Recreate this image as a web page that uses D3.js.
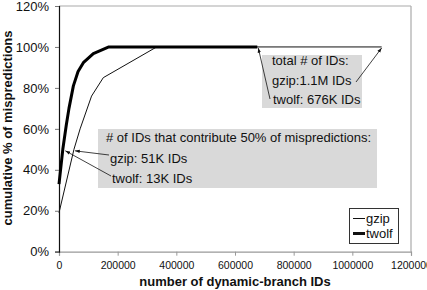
<!DOCTYPE html>
<html>
<head>
<meta charset="utf-8">
<script src="https://cdn.jsdelivr.net/npm/d3@7"></script>
<style>
  body { margin: 0; background: #fff; }
  text { font-family: "Liberation Sans", Arial, sans-serif; fill: #111; }
</style>
</head>
<body>
<div id="chart"></div>
<script>
// cumulative mispredictions vs number of dynamic-branch IDs

const gzip = [[0, 19], [51000, 50], [72000, 60], [111000, 76], [151000, 85], [333000, 100], [1100000, 100]];
const twolf = [[0, 33], [13000, 50], [25000, 62], [34000, 70], [49000, 81], [65000, 88], [83000, 92.3], [117000, 96.7], [170000, 100], [676000, 100]];
const xTicks = [0, 200000, 400000, 600000, 800000, 1000000, 1200000];
const yTicks = [0, 20, 40, 60, 80, 100, 120];
const seriesNames = ["gzip", "twolf"];

const W = 427, H = 290;

const svg = d3.select("#chart").append("svg")
  .attr("width", W)
  .attr("height", H);

const x = d3.scaleLinear().domain([0, 1200000]).range([59, 411]);
const y = d3.scaleLinear().domain([0, 120]).range([251.7, 6]);

const defs = svg.append("defs");
defs.append("marker")
  .attr("id", "arr")
  .attr("viewBox", "0 0 10 10")
  .attr("refX", 10).attr("refY", 5)
  .attr("markerWidth", 6).attr("markerHeight", 6)
  .attr("orient", "auto")
  .append("path").attr("d", "M0,1.5L10,5L0,8.5Z").attr("fill", "#111");

// plot frame (top + right)
svg.append("line")
  .attr("x1", x(0)).attr("x2", x(1200000))
  .attr("y1", y(120)).attr("y2", y(120))
  .attr("stroke", "#aaa").attr("stroke-width", 1.2);
svg.append("line")
  .attr("x1", x(1200000)).attr("x2", x(1200000))
  .attr("y1", y(120)).attr("y2", y(0))
  .attr("stroke", "#aaa").attr("stroke-width", 1.2);

// x axis
const xAxis = svg.append("g")
  .attr("transform", `translate(0,${y(0)})`)
  .call(d3.axisBottom(x).tickValues(xTicks).tickFormat(d3.format("d")).tickSize(4).tickPadding(6));
xAxis.select(".domain").attr("stroke", "#999").attr("stroke-width", 1.2);
xAxis.selectAll(".tick line").attr("stroke", "#999");
xAxis.selectAll("text").style("font-size", "10.5px");

// y axis
const yAxis = svg.append("g")
  .attr("transform", `translate(${x(0)},0)`)
  .call(d3.axisLeft(y).tickValues(yTicks).tickFormat(d => d + "%").tickSize(4).tickPadding(6));
yAxis.select(".domain").attr("stroke", "#111").attr("stroke-width", 1.2);
yAxis.selectAll(".tick line").attr("stroke", "#777");
yAxis.selectAll("text").style("font-size", "13px");

// annotation boxes
svg.append("rect")
  .attr("x", 262).attr("y", 55).attr("width", 100).attr("height", 53)
  .attr("fill", "#d9d9d9");
svg.append("rect")
  .attr("x", 98).attr("y", 129).attr("width", 279).attr("height", 59)
  .attr("fill", "#d9d9d9");

const line = d3.line().x(d => x(d[0])).y(d => y(d[1]));

svg.append("path")
  .datum(gzip)
  .attr("d", line)
  .attr("fill", "none")
  .attr("stroke", "#111")
  .attr("stroke-width", 1);

svg.append("path")
  .datum(twolf)
  .attr("d", line)
  .attr("fill", "none")
  .attr("stroke", "#000")
  .attr("stroke-width", 3)
  .attr("stroke-linejoin", "round");

// annotation text
const ann = svg.append("g").style("font-size", "13px");
ann.append("text").attr("x", 272).attr("y", 65).text("total # of IDs:");
ann.append("text").attr("x", 272).attr("y", 85).text("gzip:1.1M IDs");
ann.append("text").attr("x", 273).attr("y", 104).text("twolf: 676K IDs");
ann.append("text").attr("x", 106).attr("y", 142).text("# of IDs that contribute 50% of mispredictions:");
ann.append("text").attr("x", 110).attr("y", 163).text("gzip: 51K IDs");
ann.append("text").attr("x", 112).attr("y", 183).text("twolf: 13K IDs");

// arrows
const gEnd = gzip[gzip.length - 1], tEnd = twolf[twolf.length - 1];
const arrows = [
  [270, 99, x(tEnd[0]) + 1, y(tEnd[1]) + 1],
  [356, 82, x(gEnd[0]), y(gEnd[1]) + 1],
  [109, 155, x(51000) + 1, y(50) + 1.5],
  [111, 176, x(13000) + 2.5, y(50) + 1.5]
];
svg.selectAll(".arrow")
  .data(arrows)
  .enter()
  .append("line")
  .attr("class", "arrow")
  .attr("x1", d => d[0]).attr("y1", d => d[1])
  .attr("x2", d => d[2]).attr("y2", d => d[3])
  .attr("stroke", "#111")
  .attr("stroke-width", 0.8)
  .attr("marker-end", "url(#arr)");

// legend
const lg = svg.append("g");
lg.append("rect")
  .attr("x", 349.5).attr("y", 208.5).attr("width", 49).attr("height", 35)
  .attr("fill", "#fff").attr("stroke", "#333").attr("stroke-width", 1);
seriesNames.forEach((name, i) => {
  const ly = 218.5 + i * 15;
  lg.append("line")
    .attr("x1", 353).attr("x2", 365)
    .attr("y1", ly).attr("y2", ly)
    .attr("stroke", "#111")
    .attr("stroke-width", i === 0 ? 1 : 3);
  lg.append("text")
    .attr("x", 366).attr("y", ly + 4.5)
    .style("font-size", "13px")
    .text(name);
});

// axis titles
svg.append("text")
  .attr("x", 235).attr("y", 286)
  .attr("text-anchor", "middle")
  .style("font-size", "13px")
  .style("font-weight", "bold")
  .text("number of dynamic-branch IDs");

svg.append("text")
  .attr("transform", "translate(12,128) rotate(-90)")
  .attr("text-anchor", "middle")
  .style("font-size", "13px")
  .style("font-weight", "bold")
  .text("cumulative % of mispredictions");
</script>
</body>
</html>
